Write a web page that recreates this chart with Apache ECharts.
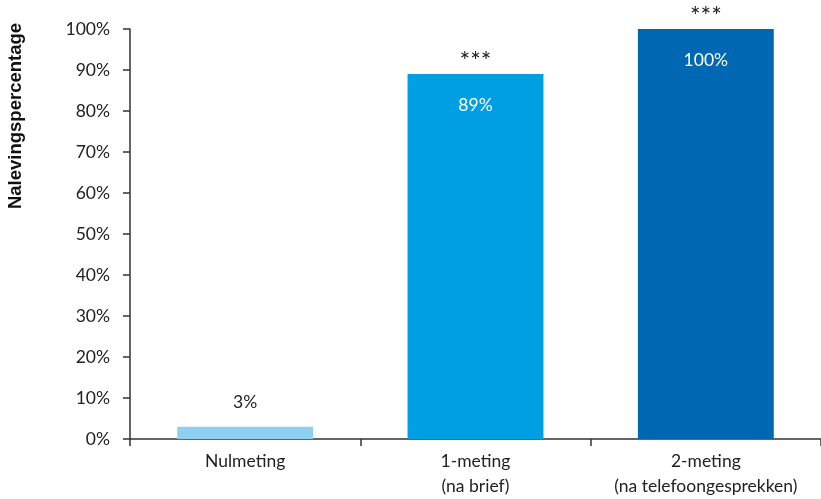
<!DOCTYPE html>
<html>
<head>
<meta charset="utf-8">
<script src="https://cdn.jsdelivr.net/npm/echarts@6/dist/echarts.min.js"></script>
<style>html,body{margin:0;padding:0;background:#fff}#c{width:821px;height:499px}</style>
</head>
<body>
<div id="c"></div>
<script>
const categories = ['Nulmeting', '1-meting\n(na brief)', '2-meting\n(na telefoongesprekken)'];
const values = [3, 89, 100];
const significance = ['', '***', '***'];
const yTicks = { min: 0, max: 100, interval: 10 };
const barColors = ['#8ed0f2', '#009fe3', '#0067b2'];
const axisTitle = 'Nalevingspercentage';

const FONT = 'Lato';
const TXT = '#222222';
const chart = echarts.init(document.getElementById('c'));
chart.setOption({
  animation: false,
  grid: { left: 130, right: -3, top: 29, bottom: 58 },
  graphic: [{
    type: 'text', x: 16, y: 116, rotation: Math.PI / 2,
    style: { text: axisTitle, font: 'bold 18.5px "Liberation Sans"', fill: '#111', align: 'center', verticalAlign: 'middle' }
  }],
  xAxis: {
    type: 'category', data: categories,
    axisLine: { lineStyle: { color: '#333', width: 1.5 } },
    axisTick: { show: true, length: 7, lineStyle: { color: '#333', width: 1.5 } },
    axisLabel: { fontFamily: FONT, fontSize: 17.5, color: TXT, lineHeight: 25, margin: 10, interval: 0 }
  },
  yAxis: {
    type: 'value', min: yTicks.min, max: yTicks.max, interval: yTicks.interval,
    splitLine: { show: false },
    axisLine: { show: true, lineStyle: { color: '#333', width: 1.5 } },
    axisTick: { show: true, length: 7, lineStyle: { color: '#333', width: 1.5 } },
    axisLabel: { formatter: '{value}%', fontFamily: FONT, fontSize: 17.5, color: TXT, margin: 20 }
  },
  series: [{
    type: 'bar', barWidth: '59%',
    data: values.map((v, i) => ({
      value: v,
      itemStyle: { color: barColors[i] },
      label: v < 50
        ? { show: true, position: 'top', distance: 15, color: TXT }
        : { show: true, position: 'insideTop', distance: 22, color: '#fff' }
    })),
    label: { formatter: '{c}%', fontFamily: FONT, fontSize: 17.5 }
  }, {
    type: 'bar', barWidth: '59%', barGap: '-100%', silent: true,
    itemStyle: { color: 'rgba(0,0,0,0)' },
    data: values,
    label: {
      show: true, position: 'top', distance: 0, fontFamily: FONT, fontSize: 25, color: TXT,
      formatter: p => significance[p.dataIndex]
    }
  }]
});
</script>
</body>
</html>
